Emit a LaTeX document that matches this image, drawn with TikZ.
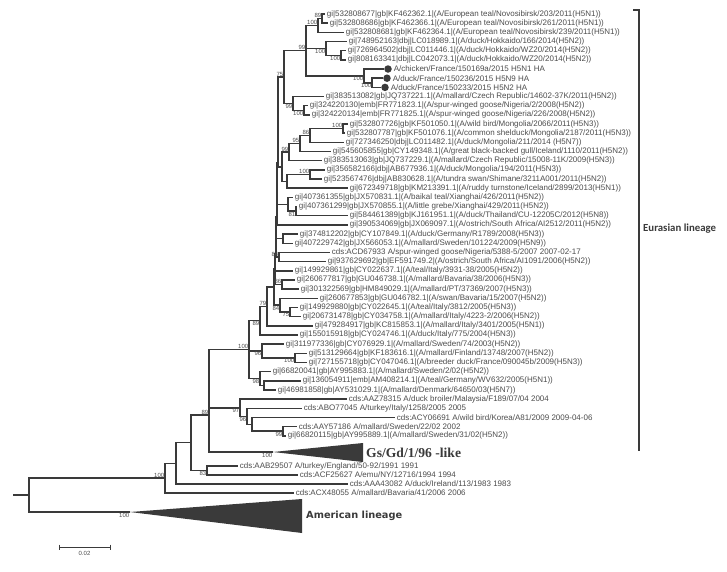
\documentclass[tikz,border=0pt]{standalone}
\usepackage{fontspec}
\setmainfont{Liberation Sans}
\newfontfamily\eurfont{Carlito}
\newfontfamily\gsfont{Liberation Serif}
\newfontfamily\amfont{DejaVu Sans}
\usetikzlibrary{calc}
\definecolor{branch}{HTML}{3A3A3A}
\definecolor{tiptext}{HTML}{4C4C4C}
\tikzset{
  leaf/.style={anchor=west, inner sep=1.6pt, text=tiptext, font=\fontsize{8}{9}\selectfont},
  boot/.style={inner sep=0.6pt, text=tiptext, font=\fontsize{6}{7}\selectfont},
  hadot/.style={circle, fill=branch, minimum size=7.5pt, inner sep=0pt},
  clade/.style={anchor=west, inner sep=0pt, text=branch},
}
\begin{document}
\begin{tikzpicture}[x=1pt, y=-1pt]
  \useasboundingbox (0,0) rectangle (727,571);
  % leaves
  \node[leaf] (l1) at (325,14.0) {gi|532808677|gb|KF462362.1|(A/European teal/Novosibirsk/203/2011(H5N1))};
  \node[leaf] (l2) at (328,23.2) {gi|532808686|gb|KF462366.1|(A/European teal/Novosibirsk/261/2011(H5N1))};
  \node[leaf] (l3) at (344,32.3) {gi|532808681|gb|KF462364.1|(A/European teal/Novosibirsk/239/2011(H5N1))};
  \node[leaf] (l4) at (347,41.5) {gi|748952163|dbj|LC018989.1|(A/duck/Hokkaido/166/2014(H5N2))};
  \node[leaf] (l5) at (346,50.7) {gi|726964502|dbj|LC011446.1|(A/duck/Hokkaido/WZ20/2014(H5N2))};
  \node[leaf] (l6) at (346,59.9) {gi|808163341|dbj|LC042073.1|(A/duck/Hokkaido/WZ20/2014(H5N2))};
  \node[hadot] (d7) at (388,69.0) {};
  \node[leaf] (l7) at (d7.east) {A/chicken/France/150169a/2015 H5N1 HA};
  \node[hadot] (d8) at (387,78.2) {};
  \node[leaf] (l8) at (d8.east) {A/duck/France/150236/2015 H5N9 HA};
  \node[hadot] (d9) at (385,87.4) {};
  \node[leaf] (l9) at (d9.east) {A/duck/France/150233/2015 H5N2 HA};
  \node[leaf] (l10) at (324,96.5) {gi|383513082|gb|JQ737221.1|(A/mallard/Czech Republic/14602-37K/2011(H5N2))};
  \node[leaf] (l11) at (308,105.7) {gi|324220130|emb|FR771823.1|(A/spur-winged goose/Nigeria/2/2008(H5N2))};
  \node[leaf] (l12) at (310,114.9) {gi|324220134|emb|FR771825.1|(A/spur-winged goose/Nigeria/226/2008(H5N2))};
  \node[leaf] (l13) at (348,124.0) {gi|532807726|gb|KF501050.1|(A/wild bird/Mongolia/2066/2011(H5N3))};
  \node[leaf] (l14) at (345,133.2) {gi|532807787|gb|KF501076.1|(A/common shelduck/Mongolia/2187/2011(H5N3))};
  \node[leaf] (l15) at (344,142.4) {gi|727346250|dbj|LC011482.1|(A/duck/Mongolia/211/2014 (H5N7))};
  \node[leaf] (l16) at (331,151.6) {gi|545605855|gb|CY149348.1|(A/great black-backed gull/Iceland/1110/2011(H5N2))};
  \node[leaf] (l17) at (322,160.7) {gi|383513063|gb|JQ737229.1|(A/mallard/Czech Republic/15008-11K/2009(H5N3))};
  \node[leaf] (l18) at (325,169.9) {gi|356582166|dbj|AB677936.1|(A/duck/Mongolia/194/2011(H5N3))};
  \node[leaf] (l19) at (322,179.1) {gi|523567476|dbj|AB830628.1|(A/tundra swan/Shimane/3211A001/2011(H5N2))};
  \node[leaf] (l20) at (348,188.2) {gi|672349718|gb|KM213391.1|(A/ruddy turnstone/Iceland/2899/2013(H5N1))};
  \node[leaf] (l21) at (293,197.4) {gi|407361355|gb|JX570831.1|(A/baikal teal/Xianghai/426/2011(H5N2))};
  \node[leaf] (l22) at (297,206.6) {gi|407361299|gb|JX570855.1|(A/little grebe/Xianghai/429/2011(H5N2))};
  \node[leaf] (l23) at (348,215.7) {gi|584461389|gb|KJ161951.1|(A/duck/Thailand/CU-12205C/2012(H5N8))};
  \node[leaf] (l24) at (348,224.9) {gi|390534069|gb|JX069097.1|(A/ostrich/South Africa/AI2512/2011(H5N2))};
  \node[leaf] (l25) at (298,234.1) {gi|374812202|gb|CY107849.1|(A/duck/Germany/R1789/2008(H5N3))};
  \node[leaf] (l26) at (293,243.3) {gi|407229742|gb|JX566053.1|(A/mallard/Sweden/101224/2009(H5N9))};
  \node[leaf] (l27) at (330,252.4) {cds:ACD67933 A/spur-winged goose/Nigeria/5388-5/2007 2007-02-17};
  \node[leaf] (l28) at (326,261.6) {gi|937629692|gb|EF591749.2|(A/ostrich/South Africa/AI1091/2006(H5N2))};
  \node[leaf] (l29) at (293,270.8) {gi|149929861|gb|CY022637.1|(A/teal/Italy/3931-38/2005(H5N2))};
  \node[leaf] (l30) at (295,279.9) {gi|260677817|gb|GU046738.1|(A/mallard/Bavaria/38/2006(H5N3))};
  \node[leaf] (l31) at (299,289.1) {gi|301322569|gb|HM849029.1|(A/mallard/PT/37369/2007(H5N3))};
  \node[leaf] (l32) at (318,298.3) {gi|260677853|gb|GU046782.1|(A/swan/Bavaria/15/2007(H5N2))};
  \node[leaf] (l33) at (298,307.4) {gi|149929880|gb|CY022645.1|(A/teal/Italy/3812/2005(H5N3))};
  \node[leaf] (l34) at (301,316.6) {gi|206731478|gb|CY034758.1|(A/mallard/Italy/4223-2/2006(H5N2))};
  \node[leaf] (l35) at (313,325.8) {gi|479284917|gb|KC815853.1|(A/mallard/Italy/3401/2005(H5N1))};
  \node[leaf] (l36) at (298,334.9) {gi|155015918|gb|CY024746.1|(A/duck/Italy/775/2004(H5N3))};
  \node[leaf] (l37) at (284,344.1) {gi|311977336|gb|CY076929.1|(A/mallard/Sweden/74/2003(H5N2))};
  \node[leaf] (l38) at (307,353.3) {gi|513129664|gb|KF183616.1|(A/mallard/Finland/13748/2007(H5N2))};
  \node[leaf] (l39) at (307,362.5) {gi|727155718|gb|CY047046.1|(A/breeder duck/France/090045b/2009(H5N3))};
  \node[leaf] (l40) at (271,371.6) {gi|66820041|gb|AY995883.1|(A/mallard/Sweden/2/02(H5N2))};
  \node[leaf] (l41) at (301,380.8) {gi|136054911|emb|AM408214.1|(A/teal/Germany/WV632/2005(H5N1))};
  \node[leaf] (l42) at (276,390.0) {gi|46981858|gb|AY531029.1|(A/mallard/Denmark/64650/03(H5N7))};
  \node[leaf] (l43) at (347,399.1) {cds:AAZ78315 A/duck broiler/Malaysia/F189/07/04 2004};
  \node[leaf] (l44) at (302,408.3) {cds:ABO77045 A/turkey/Italy/1258/2005 2005};
  \node[leaf] (l45) at (395,417.5) {cds:ACY06691 A/wild bird/Korea/A81/2009 2009-04-06};
  \node[leaf] (l46) at (297,426.6) {cds:AAY57186 A/mallard/Sweden/22/02 2002};
  \node[leaf] (l47) at (286,435.8) {gi|66820115|gb|AY995889.1|(A/mallard/Sweden/31/02(H5N2))};
  \node[leaf] (l48) at (238,466.0) {cds:AAB29507 A/turkey/England/50-92/1991 1991};
  \node[leaf] (l49) at (298,475.0) {cds:ACF25627 A/emu/NY/12716/1994 1994};
  \node[leaf] (l50) at (348,484.0) {cds:AAA43082 A/duck/Ireland/113/1983 1983};
  \node[leaf] (l51) at (294,493.0) {cds:ACX48055 A/mallard/Bavaria/41/2006 2006};
  % internal nodes
  \coordinate (a1) at (322,18.6);
  \coordinate (a2) at (318,25.5);
  \coordinate (h1) at (341,55.3);
  \coordinate (h2) at (326,48.4);
  \coordinate (fr2) at (372,82.8);
  \coordinate (fr) at (364,75.9);
  \coordinate (n99a) at (306,50.7);
  \coordinate (nig) at (304,110.3);
  \coordinate (n99b) at (293,103.4);
  \coordinate (n75) at (284,77.0);
  \coordinate (m1) at (343,128.6);
  \coordinate (m2) at (310,135.5);
  \coordinate (m3) at (300,143.5);
  \coordinate (m4) at (289,152.1);
  \coordinate (s1) at (310,174.5);
  \coordinate (s2) at (287,181.4);
  \coordinate (p1) at (282,166.8);
  \coordinate (x1) at (296,211.2);
  \coordinate (x2) at (288,204.3);
  \coordinate (g1) at (283,238.7);
  \coordinate (c1) at (279,257.0);
  \coordinate (b1) at (282,284.5);
  \coordinate (t1) at (290,312.0);
  \coordinate (t2) at (280,305.2);
  \coordinate (k1) at (278,121.9);
  \coordinate (k2) at (277.5,163.1);
  \coordinate (k3) at (277,194.0);
  \coordinate (k4) at (276.5,216.4);
  \coordinate (k5) at (276,236.7);
  \coordinate (k6) at (275.5,253.8);
  \coordinate (k7) at (275,269.2);
  \coordinate (k8) at (274,287.2);
  \coordinate (n79) at (267,306.5);
  \coordinate (n89b) at (260,320.7);
  \coordinate (n100e) at (295,357.9);
  \coordinate (n96b) at (262,351.0);
  \coordinate (nsub) at (264,385.4);
  \coordinate (n98) at (260,378.5);
  \coordinate (n100d) at (249,349.6);
  \coordinate (n99c) at (283,431.2);
  \coordinate (nky) at (252,424.4);
  \coordinate (n96) at (247,416.4);
  \coordinate (n97) at (240,407.8);
  \coordinate (gsd) at (273,452.0);
  \coordinate (n89) at (209,415.0);
  \coordinate (n83) at (207,470.3);
  \coordinate (a191) at (191,442.6);
  \coordinate (a176) at (176,463.3);
  \coordinate (a165) at (165,478.2);
  \coordinate (ame) at (130,512.0);
  \coordinate (root) at (29,495.0);
  \coordinate (stub) at (13,495.0);
  % collapsed clades
  \fill[branch] (gsd) -- (363,443) -- (363,462) -- cycle;
  \fill[branch] (ame) -- (302,499) -- (302,533) -- cycle;
  \node[clade, font=\gsfont\bfseries\fontsize{13.6}{15}\selectfont] (gslab) at (366,452.5) {Gs/Gd/1/96 -like};
  \node[clade, font=\amfont\bfseries\fontsize{9.8}{11}\selectfont] (amlab) at (306,516) {American lineage};
  % branches
  \begin{scope}[branch, line width=1.5pt]
    \draw (a1) |- (l1);  \draw (a1) |- (l2);
    \draw (a2) |- (a1);  \draw (a2) |- (l3);
    \draw (h1) |- (l5);  \draw (h1) |- (l6);
    \draw (h2) |- (l4);  \draw (h2) |- (h1);
    \draw (fr2) |- (d8); \draw (fr2) |- (d9);
    \draw (fr) |- (d7);  \draw (fr) |- (fr2);
    \draw (n99a) |- (a2); \draw (n99a) |- (h2); \draw (n99a) |- (fr);
    \draw (nig) |- (l11); \draw (nig) |- (l12);
    \draw (n99b) |- (l10); \draw (n99b) |- (nig);
    \draw (n75) |- (n99a); \draw (n75) |- (n99b);
    \draw (m1) |- (l13); \draw (m1) |- (l14);
    \draw (m2) |- (m1);  \draw (m2) |- (l15);
    \draw (m3) |- (m2);  \draw (m3) |- (l16);
    \draw (m4) |- (m3);  \draw (m4) |- (l17);
    \draw (s1) |- (l18); \draw (s1) |- (l19);
    \draw (s2) |- (s1);  \draw (s2) |- (l20);
    \draw (p1) |- (m4);  \draw (p1) |- (s2);
    \draw (x1) |- (l22); \draw (x1) |- (l23);
    \draw (x2) |- (l21); \draw (x2) |- (x1);
    \draw (g1) |- (l25); \draw (g1) |- (l26);
    \draw (c1) |- (l27); \draw (c1) |- (l28);
    \draw (b1) |- (l30); \draw (b1) |- (l31);
    \draw (t1) |- (l33); \draw (t1) |- (l34);
    \draw (t2) |- (l32); \draw (t2) |- (t1);
    \draw (k1) |- (n75); \draw (k1) |- (p1);
    \draw (k2) |- (k1);  \draw (k2) |- (x2);
    \draw (k3) |- (k2);  \draw (k3) |- (l24);
    \draw (k4) |- (k3);  \draw (k4) |- (g1);
    \draw (k5) |- (k4);  \draw (k5) |- (c1);
    \draw (k6) |- (k5);  \draw (k6) |- (l29);
    \draw (k7) |- (k6);  \draw (k7) |- (b1);
    \draw (k8) |- (k7);  \draw (k8) |- (t2);
    \draw (n79) |- (k8); \draw (n79) |- (l35);
    \draw (n89b) |- (n79); \draw (n89b) |- (l36);
    \draw (n100e) |- (l38); \draw (n100e) |- (l39);
    \draw (n96b) |- (l37); \draw (n96b) |- (n100e);
    \draw (nsub) |- (l41); \draw (nsub) |- (l42);
    \draw (n98) |- (l40); \draw (n98) |- (nsub);
    \draw (n100d) |- (n89b); \draw (n100d) |- (n96b); \draw (n100d) |- (n98);
    \draw (n99c) |- (l46); \draw (n99c) |- (l47);
    \draw (nky) |- (l45); \draw (nky) |- (n99c);
    \draw (n96) |- (l44); \draw (n96) |- (nky);
    \draw (n97) |- (l43); \draw (n97) |- (n96);
    \draw (n89) |- (n100d); \draw (n89) |- (n97); \draw (n89) |- (gsd);
    \draw (n83) |- (l48); \draw (n83) |- (l49);
    \draw (a191) |- (n89); \draw (a191) |- (n83);
    \draw (a176) |- (a191); \draw (a176) |- (l50);
    \draw (a165) |- (a176); \draw (a165) |- (l51);
    \draw (root) |- (a165); \draw (root) |- (ame);
    \draw (stub) -- (root);
  \end{scope}
  % bootstrap values
  \node[boot, above left] (v1) at (a1) {89};
  \node[boot, above left] (v2) at (a2) {100};
  \node[boot, above left] (v3) at (n99a) {99};
  \node[boot, below left] (v4) at (h2) {100};
  \node[boot, below left] (v5) at (h1) {100};
  \node[boot, below left] (v6) at (fr) {100};
  \node[boot, below left] (v7) at (fr2) {100};
  \node[boot, above left] (v8) at (n75) {75};
  \node[boot, below left] (v9) at (n99b) {99};
  \node[boot, below left] (v10) at (nig) {100};
  \node[boot, above left] (v11) at (m1) {100};
  \node[boot, above left] (v12) at (m2) {86};
  \node[boot, above left] (v13) at (m3) {95};
  \node[boot, above left] (v14) at (m4) {99};
  \node[boot, above left] (v15) at (s1) {100};
  \node[boot, below left] (v16) at (x1) {81};
  \node[boot, above left] (v17) at (c1) {84};
  \node[boot, above left] (v18) at (b1) {86};
  \node[boot, below left] (v19) at (t2) {84};
  \node[boot, below left] (v20) at (t1) {75};
  \node[boot, above left] (v21) at (n79) {79};
  \node[boot, below left] (v22) at (n89b) {89};
  \node[boot, above left] (v23) at (n100d) {100};
  \node[boot, below left] (v24) at (n96b) {96};
  \node[boot, below left] (v25) at (n100e) {100};
  \node[boot, below left] (v26) at (n98) {98};
  \node[boot, below left] (v27) at (n97) {97};
  \node[boot, below left] (v28) at (n96) {96};
  \node[boot, below left] (v29) at (n99c) {99};
  \node[boot, below left] (v30) at (gsd) {100};
  \node[boot, above left] (v31) at (n89) {89};
  \node[boot, below left] (v32) at (n83) {83};
  \node[boot, above left] (v33) at (a165) {100};
  \node[boot, below left] (v34) at (ame) {100};
  % Eurasian bracket
  \draw[branch, line width=1.4pt] (633,10) -- (639,10) -- (639,451);
  \node[clade, font=\eurfont\bfseries\fontsize{10.8}{12}\selectfont] (eurlab) at (643,229) {Eurasian lineage};
  % scale bar
  \coordinate (sb0) at (59,547);
  \coordinate (sb1) at (110,547);
  \draw[branch, line width=0.8pt] (sb0) -- (sb1);
  \draw[branch, line width=0.8pt] ([yshift=2.5pt]sb0) -- ([yshift=-2.5pt]sb0);
  \draw[branch, line width=0.8pt] ([yshift=2.5pt]sb1) -- ([yshift=-2.5pt]sb1);
  \node[boot, below=3pt] (sblab) at ($(sb0)!0.5!(sb1)$) {0.02};
\end{tikzpicture}
\end{document}
